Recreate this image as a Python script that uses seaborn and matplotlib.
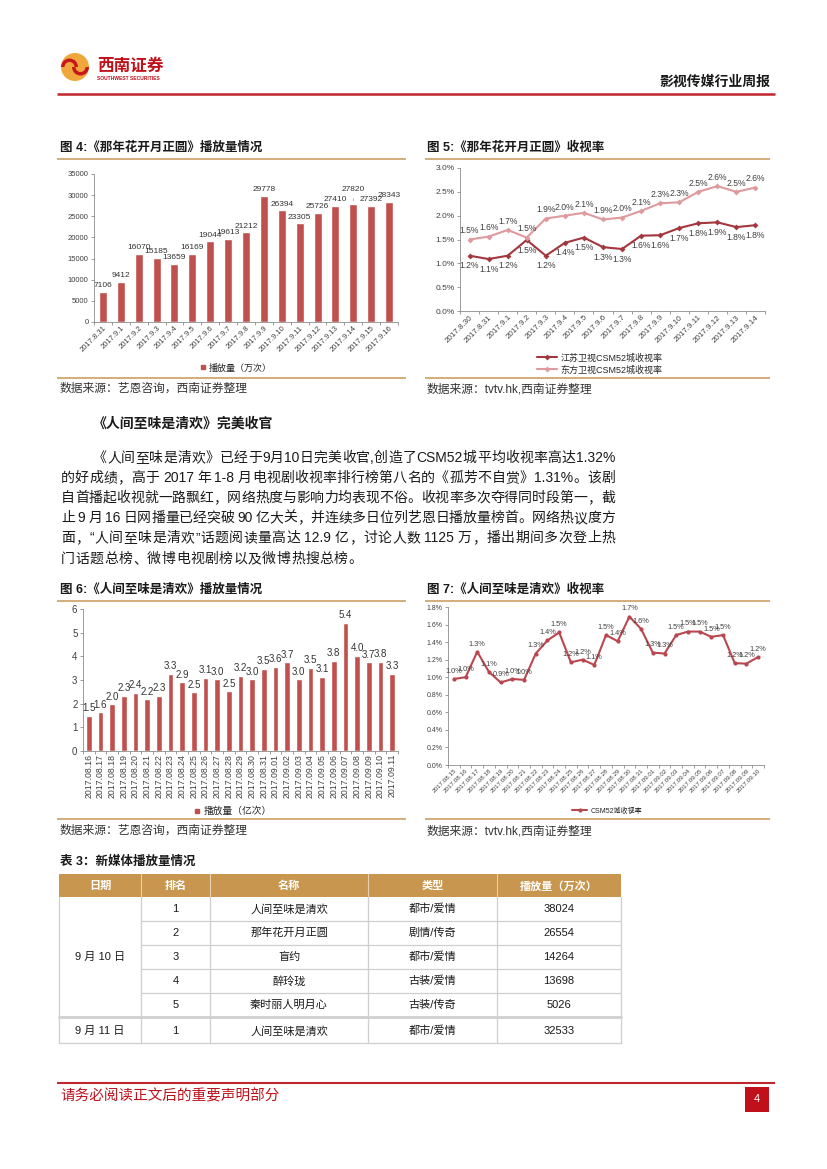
import re
import numpy as np
import pandas as pd
import matplotlib
matplotlib.use('Agg')
import matplotlib.pyplot as plt
import seaborn as sns
from matplotlib.lines import Line2D
from matplotlib.patches import Rectangle, Circle, Wedge
from matplotlib.ticker import PercentFormatter, MultipleLocator

# ---- data ----
fig4_dates = ['2017.8.31', '2017.9.1', '2017.9.2', '2017.9.3', '2017.9.4', '2017.9.5',
              '2017.9.6', '2017.9.7', '2017.9.8', '2017.9.9', '2017.9.10', '2017.9.11',
              '2017.9.12', '2017.9.13', '2017.9.14', '2017.9.15', '2017.9.16']
fig4_views = [7106, 9412, 16070, 15185, 13659, 16169, 19044, 19613, 21212, 29778,
              26394, 23305, 25726, 27410, 27820, 27392, 28343]

fig5_dates = ['2017.8.30', '2017.8.31', '2017.9.1', '2017.9.2', '2017.9.3', '2017.9.4',
              '2017.9.5', '2017.9.6', '2017.9.7', '2017.9.8', '2017.9.9', '2017.9.10',
              '2017.9.11', '2017.9.12', '2017.9.13', '2017.9.14']
fig5_jiangsu = [1.16, 1.09, 1.16, 1.49, 1.16, 1.43, 1.54, 1.34, 1.30, 1.58, 1.59, 1.74,
                1.84, 1.86, 1.76, 1.80]
fig5_dongfang = [1.50, 1.56, 1.70, 1.54, 1.94, 2.00, 2.06, 1.92, 1.96, 2.10, 2.26, 2.28,
                 2.50, 2.62, 2.50, 2.59]
fig5_names = ['江苏卫视CSM52城收视率', '东方卫视CSM52城收视率']

fig6_dates = ['2017.08.16', '2017.08.17', '2017.08.18', '2017.08.19', '2017.08.20',
              '2017.08.21', '2017.08.22', '2017.08.23', '2017.08.24', '2017.08.25',
              '2017.08.26', '2017.08.27', '2017.08.28', '2017.08.29', '2017.08.30',
              '2017.08.31', '2017.09.01', '2017.09.02', '2017.09.03', '2017.09.04',
              '2017.09.05', '2017.09.06', '2017.09.07', '2017.09.08', '2017.09.09',
              '2017.09.10', '2017.09.11']
fig6_views = [1.50, 1.63, 1.97, 2.33, 2.44, 2.18, 2.33, 3.26, 2.90, 2.48, 3.10, 3.03,
              2.52, 3.18, 3.03, 3.48, 3.57, 3.74, 3.03, 3.52, 3.14, 3.82, 5.40, 4.03,
              3.74, 3.78, 3.27]

fig7_dates = ['2017.08.15', '2017.08.16', '2017.08.17', '2017.08.18', '2017.08.19',
              '2017.08.20', '2017.08.21', '2017.08.22', '2017.08.23', '2017.08.24',
              '2017.08.25', '2017.08.26', '2017.08.27', '2017.08.28', '2017.08.29',
              '2017.08.30', '2017.08.31', '2017.09.01', '2017.09.02', '2017.09.03',
              '2017.09.04', '2017.09.05', '2017.09.06', '2017.09.07', '2017.09.08',
              '2017.09.09', '2017.09.10']
fig7_rating = [0.98, 1.00, 1.29, 1.06, 0.94, 0.98, 0.97, 1.27, 1.42, 1.51, 1.17, 1.20,
               1.14, 1.48, 1.41, 1.69, 1.55, 1.28, 1.27, 1.48, 1.52, 1.52, 1.46, 1.48,
               1.16, 1.155, 1.23]

table_header = ['日期', '排名', '名称', '类型', '播放量（万次）']
table_dates = ['9 月 10 日', '9 月 11 日']
table_rank = ['1', '2', '3', '4', '5', '1']
table_name = ['人间至味是清欢', '那年花开月正圆', '盲约', '醉玲珑', '秦时丽人明月心', '人间至味是清欢']
table_type = ['都市/爱情', '剧情/传奇', '都市/爱情', '古装/爱情', '古装/传奇', '都市/爱情']
table_views = [38024, 26554, 14264, 13698, 5026, 32533]

body_lines = [
    '《人间至味是清欢》已经于9月10日完美收官,创造了CSM52城平均收视率高达1.32%',
    '的好成绩，高于 2017 年 1-8 月电视剧收视率排行榜第八名的《孤芳不自赏》1.31%。该剧',
    '自首播起收视就一路飘红，网络热度与影响力均表现不俗。收视率多次夺得同时段第一，截',
    '止 9 月 16 日网播量已经突破 90 亿大关，并连续多日位列艺恩日播放量榜首。网络热议度方',
    '面，“人间至味是清欢”话题阅读量高达 12.9 亿，讨论人数 1125 万，播出期间多次登上热',
    '门话题总榜、微博电视剧榜以及微博热搜总榜。',
]

# ---- page ----
sns.set_theme(style='ticks')
plt.rcParams['font.family'] = ['Liberation Sans', 'Noto Sans CJK SC', 'DejaVu Sans']
plt.rcParams['axes.unicode_minus'] = False

W, H = 827, 1169
fig = plt.figure(figsize=(W / 100, H / 100), dpi=100)
fig.patch.set_facecolor('white')
page = fig.add_axes([0, 0, 1, 1])
page.set_xlim(0, W)
page.set_ylim(H, 0)
page.axis('off')
renderer = fig.canvas.get_renderer()

RED = '#C0504D'
TAN = '#C9A063'
TXT = '#1a1a1a'
GREY = '#8c8c8c'


def rect(x0, y0, x1, y1):
    return [x0 / W, 1 - y1 / H, (x1 - x0) / W, (y1 - y0) / H]


def hline(y, x0, x1, color=TAN, lw=1.2):
    page.plot([x0, x1], [y, y], color=color, lw=lw, solid_capstyle='butt')


def put_line(s, x0, x1, y, size, justify=True):
    toks = re.findall(r'[A-Za-z0-9.%\-]+|\s|.', s)
    items = []
    for t in toks:
        if t.isspace():
            items.append((None, 3.0))
        else:
            tx = page.text(0, 0, t, fontsize=size, color=TXT, va='baseline')
            items.append((tx, tx.get_window_extent(renderer).width))
    total = sum(w for _, w in items)
    gap = (x1 - x0 - total) / (len(items) - 1) if justify else 0.5
    x = x0
    for tx, w in items:
        if tx is not None:
            tx.set_position((x, y))
        x += w + gap


def style_axes(ax, n):
    sns.despine(ax=ax)
    for s in ['left', 'bottom']:
        ax.spines[s].set_color(GREY)
        ax.spines[s].set_linewidth(0.6)
    ax.set_facecolor('none')
    ax.set_xlim(-0.5, n - 0.5)
    ax.set_xticks(np.arange(-0.5, n, 1), minor=True)
    ax.tick_params(axis='x', which='major', length=0, pad=2, colors='#404040')
    ax.tick_params(axis='x', which='minor', length=2.5, width=0.6, color=GREY)
    ax.tick_params(axis='y', length=2.5, width=0.6, color=GREY, pad=1.5, labelcolor='#404040')
    ax.set_xlabel('')
    ax.set_ylabel('')


# header
page.add_patch(Circle((75, 67), 14, fc='#F0A83C', ec='none'))
page.add_patch(Wedge((69.5, 67), 8.5, 180, 360, width=3.5, fc='#C8161D', ec='none'))
page.add_patch(Wedge((80.5, 67), 8.5, 0, 180, width=3.5, fc='#C8161D', ec='none'))
page.text(97, 66, '西南证券', fontsize=12, fontweight='bold', color='#C0101A', va='center')
page.text(97, 79, 'SOUTHWEST SECURITIES', fontsize=3.6, fontweight='bold', color='#C0101A', va='center')
page.text(770, 82, '影视传媒行业周报', fontsize=10, fontweight='bold', color=TXT, ha='right', va='center')
hline(94, 57, 775, color='#C0262D', lw=1.8)

# figure titles and frames
page.text(60, 148, '图 4:《那年花开月正圆》播放量情况', fontsize=9, fontweight='bold', color=TXT, va='center')
page.text(427, 148, '图 5:《那年花开月正圆》收视率', fontsize=9, fontweight='bold', color=TXT, va='center')
page.text(60, 590, '图 6:《人间至味是清欢》播放量情况', fontsize=9, fontweight='bold', color=TXT, va='center')
page.text(427, 590, '图 7:《人间至味是清欢》收视率', fontsize=9, fontweight='bold', color=TXT, va='center')
for y in (159, 378, 601, 819):
    hline(y, 57, 406)
    hline(y, 425, 770)
page.text(60, 389, '数据来源：艺恩咨询，西南证券整理', fontsize=8.5, color='#333333', va='center')
page.text(427, 389, '数据来源：tvtv.hk,西南证券整理', fontsize=8.5, color='#333333', va='center')
page.text(60, 831, '数据来源：艺恩咨询，西南证券整理', fontsize=8.5, color='#333333', va='center')
page.text(427, 831, '数据来源：tvtv.hk,西南证券整理', fontsize=8.5, color='#333333', va='center')

# body text
page.text(93, 424, '《人间至味是清欢》完美收官', fontsize=10, fontweight='bold', color=TXT, va='center')
line_y = [462, 482, 502, 522, 542, 563]
for i, (s, y) in enumerate(zip(body_lines, line_y)):
    put_line(s, 93 if i == 0 else 61, 615, y, 10, justify=(i < len(body_lines) - 1))

# ---- figure 4: bars ----
ax4 = fig.add_axes(rect(94, 174, 398, 322))
df4 = pd.DataFrame({'date': fig4_dates, 'views': fig4_views})
sns.barplot(data=df4, x='date', y='views', color=RED, saturation=1, width=0.45, ax=ax4)
style_axes(ax4, len(fig4_dates))
ax4.set_ylim(0, 35000)
ax4.yaxis.set_major_locator(MultipleLocator(5000))
ax4.tick_params(axis='y', labelsize=5.5)
ax4.set_xticks(range(len(fig4_dates)))
ax4.set_xticklabels(fig4_dates, rotation=45, ha='right', rotation_mode='anchor', fontsize=5.5)
labels4 = [str(v) if d != '2017.9.14' else '' for d, v in zip(fig4_dates, fig4_views)]
ax4.bar_label(ax4.containers[0], labels=labels4, fontsize=6, padding=2, color='#333333')
i14 = fig4_dates.index('2017.9.14')
ax4.annotate(str(fig4_views[i14]), xy=(i14, fig4_views[i14] + 200), xytext=(i14, 30600),
             ha='center', va='bottom', fontsize=6, color='#333333',
             arrowprops=dict(arrowstyle='-', color='#999999', lw=0.5))
fig.legend([Line2D([], [], marker='s', ls='', color=RED, markersize=3.5)], ['播放量（万次）'],
           loc='center', bbox_to_anchor=(235 / W, 1 - 368 / H), frameon=False,
           fontsize=6.5, handletextpad=0.2, handlelength=1)

# ---- figure 5: two lines ----
ax5 = fig.add_axes(rect(460, 168, 765, 311))
n5 = len(fig5_dates)
df5 = pd.DataFrame({
    'pos': list(range(n5)) * 2,
    'rating': fig5_jiangsu + fig5_dongfang,
    'series': [fig5_names[0]] * n5 + [fig5_names[1]] * n5,
})
c5 = {fig5_names[0]: '#A3373D', fig5_names[1]: '#DE9A9D'}
sns.lineplot(data=df5, x='pos', y='rating', hue='series', palette=c5, marker='D',
             markersize=3, markeredgewidth=0, lw=1.5, sort=False, legend=False, ax=ax5)
style_axes(ax5, n5)
ax5.set_ylim(0, 3.0)
ax5.yaxis.set_major_locator(MultipleLocator(0.5))
ax5.yaxis.set_major_formatter(PercentFormatter(100, decimals=1))
ax5.tick_params(axis='y', labelsize=6)
ax5.set_xticks(range(n5))
ax5.set_xticklabels(fig5_dates, rotation=45, ha='right', rotation_mode='anchor', fontsize=5.8)
for i, v in enumerate(fig5_jiangsu):
    ax5.annotate(f'{v:.1f}%', (i, v), xytext=(0, -4), textcoords='offset points',
                 ha='center', va='top', fontsize=6.2, color='#404040')
for i, v in enumerate(fig5_dongfang):
    ax5.annotate(f'{v:.1f}%', (i, v), xytext=(0, 3), textcoords='offset points',
                 ha='center', va='bottom', fontsize=6.2, color='#404040')
h5 = [Line2D([], [], color=c5[n], marker='D', markersize=3, markeredgewidth=0, lw=1.5)
      for n in fig5_names]
fig.legend(h5, fig5_names, loc='center', bbox_to_anchor=(600 / W, 1 - 364 / H), frameon=False,
           fontsize=6.5, handlelength=2.2, labelspacing=0.3, handletextpad=0.4)

# ---- figure 6: bars ----
ax6 = fig.add_axes(rect(83, 609, 398, 751))
df6 = pd.DataFrame({'date': fig6_dates, 'views': fig6_views})
sns.barplot(data=df6, x='date', y='views', color=RED, saturation=1, width=0.5, ax=ax6)
style_axes(ax6, len(fig6_dates))
ax6.set_ylim(0, 6)
ax6.yaxis.set_major_locator(MultipleLocator(1))
ax6.tick_params(axis='y', labelsize=7)
ax6.set_xticks(range(len(fig6_dates)))
ax6.set_xticklabels(fig6_dates, rotation=90, ha='center', va='top', fontsize=6.3)
ax6.bar_label(ax6.containers[0], fmt='%.1f', fontsize=7, padding=2, color='#333333')
fig.legend([Line2D([], [], marker='s', ls='', color=RED, markersize=3.5)], ['播放量（亿次）'],
           loc='center', bbox_to_anchor=(232 / W, 1 - 811 / H), frameon=False,
           fontsize=7, handletextpad=0.2, handlelength=1)

# ---- figure 7: single line ----
ax7 = fig.add_axes(rect(448, 607, 764, 765))
n7 = len(fig7_dates)
df7 = pd.DataFrame({'pos': range(n7), 'rating': fig7_rating})
sns.lineplot(data=df7, x='pos', y='rating', color='#B9474F', marker='o', markersize=3,
             markeredgewidth=0, lw=1.5, sort=False, ax=ax7)
style_axes(ax7, n7)
ax7.set_ylim(0, 1.8)
ax7.yaxis.set_major_locator(MultipleLocator(0.2))
ax7.yaxis.set_major_formatter(PercentFormatter(100, decimals=1))
ax7.tick_params(axis='y', labelsize=5)
ax7.set_xticks(range(n7))
ax7.set_xticklabels(fig7_dates, rotation=45, ha='right', rotation_mode='anchor', fontsize=4.5)
for i, v in enumerate(fig7_rating):
    ax7.annotate(f'{v:.1f}%', (i, v), xytext=(0, 3), textcoords='offset points',
                 ha='center', va='bottom', fontsize=5.3, color='#404040')
fig.legend([Line2D([], [], color='#B9474F', marker='o', markersize=3, markeredgewidth=0, lw=1.5)],
           ['CSM52城收视率'], loc='center', bbox_to_anchor=(607 / W, 1 - 811 / H),
           frameon=False, fontsize=5, handlelength=2.2, handletextpad=0.4)

# ---- table 3 ----
page.text(60, 862, '表 3：新媒体播放量情况', fontsize=9, fontweight='bold', color=TXT, va='center')
col_x = [59, 141, 210, 368, 497, 621]
row_y = [897, 921, 945, 969, 993, 1017, 1043]
top = 874
page.add_patch(Rectangle((col_x[0], top), col_x[-1] - col_x[0], row_y[0] - top,
                         fc='#C8964E', ec='none'))
for j, h in enumerate(table_header):
    page.text((col_x[j] + col_x[j + 1]) / 2, (top + row_y[0]) / 2 + 0.5, h, fontsize=8,
              fontweight='bold', color='white', ha='center', va='center')
for x in col_x[1:-1]:
    page.plot([x, x], [top, row_y[0]], color='#E8D2B0', lw=0.8)
grid = '#CFCFCF'
for x in col_x:
    page.plot([x, x], [row_y[0], row_y[-1]], color=grid, lw=0.9)
for k, y in enumerate(row_y[1:-1]):
    x_start = col_x[0] if y == row_y[5] else col_x[1]
    page.plot([x_start, col_x[-1]], [y, y], color=grid, lw=2.0 if y == row_y[5] else 0.9)
page.plot([col_x[0], col_x[-1]], [row_y[-1], row_y[-1]], color=grid, lw=0.9)
page.text((col_x[0] + col_x[1]) / 2, (row_y[0] + row_y[5]) / 2, table_dates[0], fontsize=8,
          color=TXT, ha='center', va='center')
page.text((col_x[0] + col_x[1]) / 2, (row_y[5] + row_y[6]) / 2 + 1, table_dates[1], fontsize=8,
          color=TXT, ha='center', va='center')
for r in range(len(table_rank)):
    yc = (row_y[r] + row_y[r + 1]) / 2 + (1 if r == 5 else 0)
    vals = [table_rank[r], table_name[r], table_type[r], str(table_views[r])]
    for j, v in enumerate(vals):
        page.text((col_x[j + 1] + col_x[j + 2]) / 2, yc, v, fontsize=8, color=TXT,
                  ha='center', va='center')

# footer
hline(1083, 57, 775, color='#C0262D', lw=1.5)
page.text(60, 1096, '请务必阅读正文后的重要声明部分', fontsize=10.5, color='#C0101A', va='center')
page.add_patch(Rectangle((745, 1087), 24, 25, fc='#C0101A', ec='none'))
page.text(757, 1099.5, '4', fontsize=8, color='white', ha='center', va='center')

fig.savefig('out.png', dpi=100, facecolor='white')
